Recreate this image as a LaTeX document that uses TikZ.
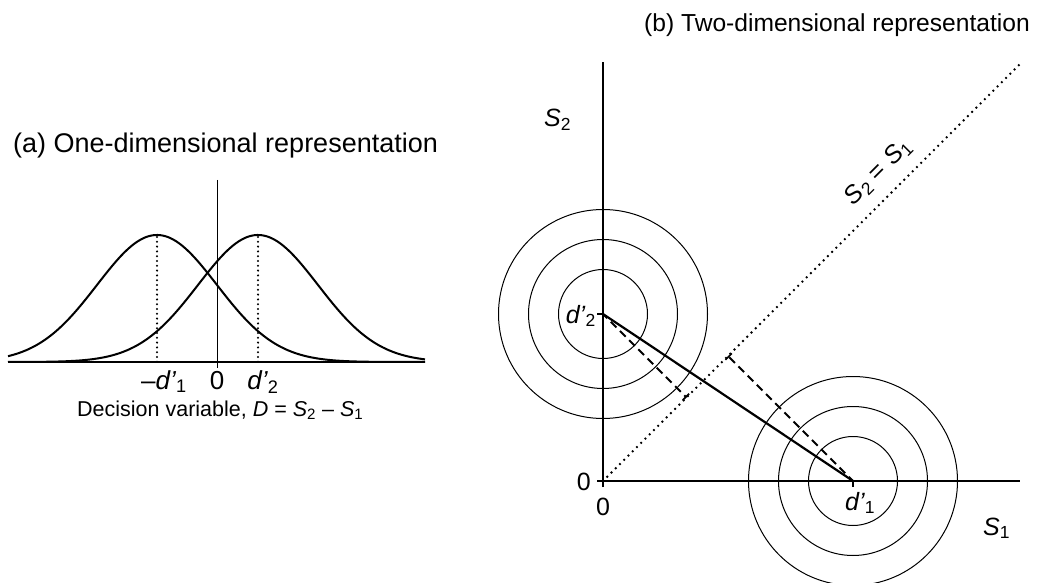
\documentclass[tikz,border=0pt]{standalone}
\usepackage{fontspec}
\setmainfont{Liberation Sans}
\usetikzlibrary{arrows.meta}
\begin{document}
\begin{tikzpicture}[x=1pt,y=-1pt,
  axisline/.style={line width=2pt},
  curveline/.style={line width=2pt},
  thinline/.style={line width=1pt},
  ringline/.style={line width=1pt},
  dotline/.style={line width=2.6pt,line cap=round,dash pattern=on 0pt off 6pt},
  vdotline/.style={line width=2.3pt,line cap=round,dash pattern=on 0pt off 4.8pt},
  dashline/.style={line width=2pt,dash pattern=on 8pt off 5pt,dash phase=2pt},
  lab/.style={inner sep=0pt,font=\fontsize{25}{30}\selectfont},
  alab/.style={inner sep=0pt,font=\fontsize{26}{30}\selectfont},
]
\useasboundingbox (0,0) rectangle (1037,583);

% ---------- titles ----------
\node[alab,anchor=base west,font=\fontsize{27}{32}\selectfont] (ta) at (13,153) {(a) One-dimensional representation};
\node[lab,anchor=base east,font=\fontsize{24.6}{30}\selectfont] (tb) at (1030,32) {(b) Two-dimensional representation};

% ---------- panel (a) ----------
\coordinate (aL) at (8,362);
\coordinate (aR) at (425,362);
\coordinate (aTop) at (217,180);
\coordinate (aBot) at (217,368);
\coordinate (m1top) at (157,237);
\coordinate (m1bot) at (157,362);
\coordinate (m2top) at (258,237);
\coordinate (m2bot) at (258,362);
\draw[axisline] (aL) -- (aR);
\draw[thinline] (aTop) -- (aBot);
\draw[curveline] plot[domain=8:425,samples=160,smooth] (\x,{362-127*exp(-0.5*((\x-157)/60)^2)});
\draw[curveline] plot[domain=8:425,samples=160,smooth] (\x,{362-127*exp(-0.5*((\x-258)/60)^2)});
\draw[vdotline] (m1top) -- (m1bot);
\draw[vdotline] (m2top) -- (m2bot);
\node[alab,anchor=base] (lm1) at (164,389) {\textendash\textit{d’}\textsubscript{1}};
\node[alab,anchor=base] (l0a) at (217,389) {0};
\node[alab,anchor=base] (ld2a) at (263,389) {\textit{d’}\textsubscript{2}};
\node[inner sep=0pt,anchor=base west,font=\fontsize{21.5}{26}\selectfont] (dv) at (77,416)
  {Decision variable, \textit{D} = \textit{S}\textsubscript{2} \textendash{} \textit{S}\textsubscript{1}};

% ---------- panel (b) ----------
\coordinate (O) at (603,481);
\coordinate (yTop) at (603,62);
\coordinate (xR) at (1020,481);
\coordinate (Otick) at (603,487);
\coordinate (Oleft) at (597,481);
\coordinate (d1) at (853,481);
\coordinate (d1tick) at (853,487);
\coordinate (d2) at (603,314);
\coordinate (d2tick) at (597,314);
\coordinate (diagEnd) at (1020,64);
\coordinate (P2) at (686.5,397.5);
\coordinate (P1) at (728,356);

\draw[axisline] (Otick) -- (yTop);
\draw[axisline] (Oleft) -- (xR);
\draw[axisline] (d1) -- (d1tick);
\draw[axisline] (d2) -- (d2tick);

\foreach \r in {44.5,74.5,104.5}{
  \draw[ringline] (d2) circle[radius=\r];
  \draw[ringline] (d1) circle[radius=\r];
}

\draw[dotline] (O) -- (diagEnd);
\draw[line width=2.2pt] (d2) -- (d1);
\draw[dashline,-{Bar[width=9pt,line width=1.6pt]}] (d2) -- (P2);
\draw[dashline,-{Bar[width=9pt,line width=1.6pt]}] (d1) -- (P1);

\node[lab,anchor=base west] (lS2) at (544,127) {\textit{S}\textsubscript{2}};
\node[lab,anchor=base east] (l0y) at (591,490) {0};
\node[lab,anchor=base] (l0x) at (603,515) {0};
\node[lab,anchor=base west] (ld1) at (845,510) {\textit{d’}\textsubscript{1}};
\node[lab,anchor=base west] (lS1) at (983,535) {\textit{S}\textsubscript{1}};
\node[lab,anchor=base east] (ld2) at (596,323) {\textit{d’}\textsubscript{2}};
\node[lab,anchor=base,rotate=45] (ldiag) at (883,177) {\textit{S}\textsubscript{2} = \textit{S}\textsubscript{1}};
\end{tikzpicture}
\end{document}
